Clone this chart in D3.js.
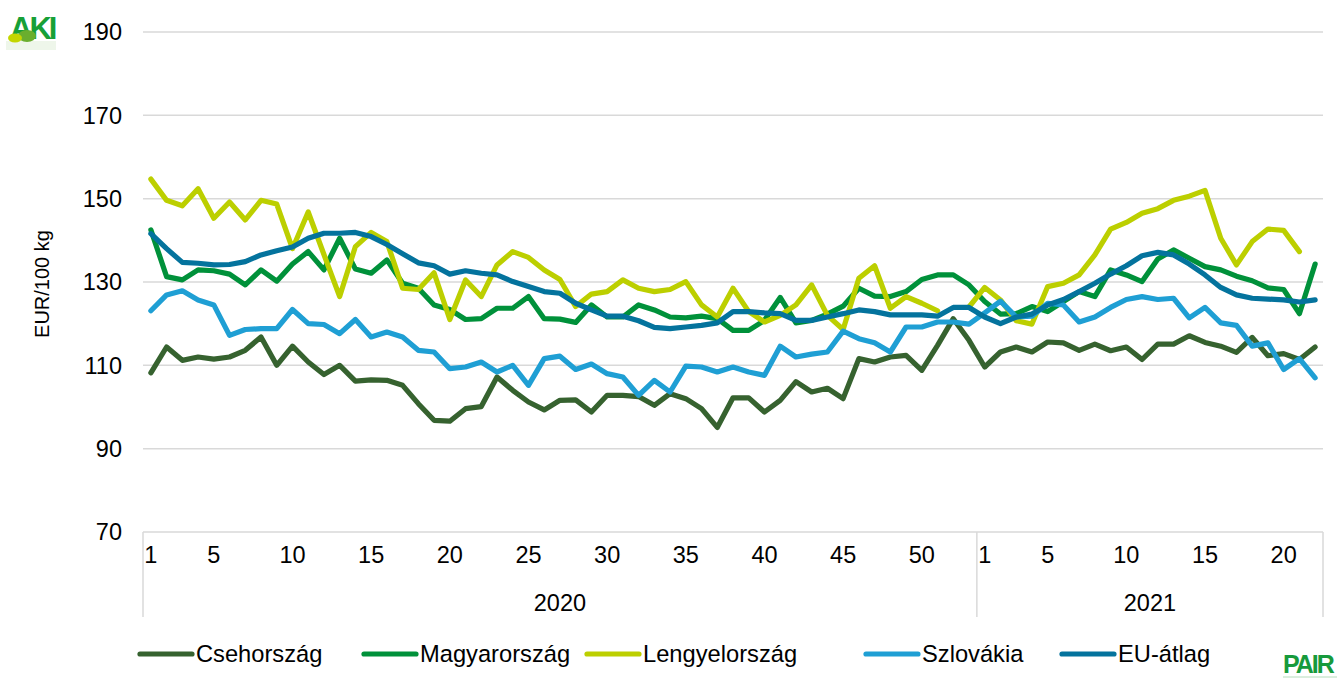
<!DOCTYPE html>
<html>
<head>
<meta charset="utf-8">
<script src="https://cdn.jsdelivr.net/npm/d3@7"></script>
<style>
    body { margin: 0; background: #fff; }
    #chart { width: 1337px; height: 681px; }
    text { font-family: "Liberation Sans", Arial, sans-serif; fill: #000; }
</style>
</head>
<body>
<div id="chart"></div>
<script>
// years and how many weeks each has on the axis
const years = ['2020', '2021'];
const weekCounts = [53, 22];
const shownWeeks = [1, 5, 10, 15, 20, 25, 30, 35, 40, 45, 50];
const yTicks = [70, 90, 110, 130, 150, 170, 190];

const seriesNames = ['Csehország', 'Magyarország', 'Lengyelország', 'Szlovákia', 'EU-átlag'];
const seriesColors = ['#36622f', '#00913a', '#bccf00', '#1f9fd4', '#04739d'];

const cseh = [
    108.2, 114.4, 111.2, 112.0, 111.5, 112.0, 113.6, 116.8, 110.0, 114.6,
    110.8, 107.8, 110.0, 106.2, 106.5, 106.4, 105.2, 100.8, 96.8, 96.6,
    99.6, 100.1, 107.2, 104.0, 101.2, 99.3, 101.6, 101.7, 98.8, 102.8,
    102.8, 102.5, 100.4, 103.2, 102.0, 99.6, 95.1, 102.2, 102.2, 98.8,
    101.6, 106.1, 103.6, 104.5, 102.0, 111.6, 110.8, 112.0, 112.4, 108.8,
    114.8, 121.2, 116.0, 109.6, 113.2, 114.4, 113.2, 115.6, 115.4, 113.6,
    115.1, 113.5, 114.4, 111.4, 115.1, 115.1, 117.1, 115.5, 114.6, 113.1,
    116.7, 112.3, 112.8, 111.4, 114.4
];
const magyar = [
    142.5, 131.3, 130.5, 132.9, 132.7, 131.9, 129.3, 132.9, 130.2, 134.3,
    137.3, 132.9, 140.5, 133.1, 132.1, 135.3, 129.7, 128.5, 124.5, 123.4,
    121.0, 121.2, 123.7, 123.7, 126.5, 121.2, 121.1, 120.3, 124.5, 121.6,
    121.6, 124.5, 123.3, 121.6, 121.4, 121.8, 121.2, 118.4, 118.4, 120.8,
    126.3, 120.2, 120.8, 122.3, 124.2, 128.5, 126.6, 126.5, 127.7, 130.6,
    131.7, 131.7, 129.3, 125.3, 122.3, 122.4, 124.1, 122.9, 125.3, 127.7,
    126.5, 132.9, 131.7, 130.1, 135.5, 137.7, 135.7, 133.7, 132.9, 131.4,
    130.3, 128.6, 128.2, 122.4, 134.3
];
const lengyel = [
    154.7, 149.6, 148.3, 152.4, 145.3, 149.2, 144.9, 149.6, 148.7, 138.0,
    146.8, 136.6, 126.5, 138.5, 141.9, 139.7, 128.5, 128.2, 132.2, 121.0,
    130.5, 126.5, 134.1, 137.3, 135.9, 132.9, 130.6, 124.1, 127.1, 127.7,
    130.5, 128.5, 127.7, 128.2, 130.1, 124.5, 121.6, 128.5, 122.9, 120.4,
    122.0, 124.5, 129.3, 122.0, 118.6, 130.9, 133.9, 123.7, 126.5, 124.9,
    123.1, null, 124.0, 128.7, 125.7, 120.7, 119.9, 128.9, 129.7, 131.7,
    136.5, 142.7, 144.3, 146.5, 147.6, 149.6, 150.6, 152.0, 140.5, 134.1,
    139.7, 142.7, 142.4, 137.3, null
];
const szlovak = [
    123.1, 126.9, 127.9, 125.7, 124.5, 117.2, 118.6, 118.8, 118.8, 123.4,
    120.0, 119.8, 117.6, 121.0, 116.8, 118.0, 116.8, 113.6, 113.2, 109.2,
    109.6, 110.8, 108.4, 110.0, 105.2, 111.6, 112.2, 109.0, 110.3, 108.0,
    107.2, 102.8, 106.4, 103.6, 109.8, 109.6, 108.4, 109.6, 108.4, 107.6,
    114.6, 112.0, 112.7, 113.2, 118.2, 116.4, 115.4, 113.2, 119.2, 119.2,
    120.4, 120.4, 119.9, 122.6, 125.4, 121.6, 121.8, 124.9, 124.5, 120.4,
    121.6, 123.9, 125.8, 126.5, 125.8, 126.1, 121.4, 123.9, 120.2, 119.6,
    114.6, 115.4, 109.0, 111.6, 107.0
];
const euAtlag = [
    141.6, 138.0, 134.7, 134.5, 134.1, 134.2, 134.9, 136.5, 137.5, 138.4,
    140.5, 141.7, 141.7, 141.9, 140.9, 139.0, 136.8, 134.6, 133.9, 131.9,
    132.7, 132.1, 131.7, 130.1, 128.9, 127.7, 127.3, 124.9, 123.3, 121.8,
    121.8, 120.7, 119.1, 118.8, 119.2, 119.6, 120.2, 122.9, 122.9, 122.6,
    122.4, 120.8, 120.8, 121.6, 122.4, 123.3, 122.9, 122.1, 122.1, 122.1,
    121.8, 123.9, 123.9, 121.6, 120.0, 121.6, 122.3, 124.5, 125.8, 127.7,
    129.7, 131.9, 133.9, 136.3, 137.1, 136.5, 134.3, 131.7, 128.7, 126.9,
    126.1, 125.9, 125.7, 125.2, 125.7
];
const seriesValues = [cseh, magyar, lengyel, szlovak, euAtlag];

class PriceChart {
    constructor(container) {
        this.container = container;
        this.width = 1337;
        this.height = 681;
        this.margin = { left: 143, right: 14, top: 32, bottom: 149 };
        this.init();
    }

    init() {
        this.svg = d3.select(this.container)
            .append('svg')
            .attr('width', this.width)
            .attr('height', this.height);
    }

    draw() {
        const m = this.margin;
        const innerW = this.width - m.left - m.right;
        const innerH = this.height - m.top - m.bottom;

        // categories: one per week, keyed by year and week
        const cats = [];
        years.forEach((yr, yi) => {
            for (let w = 1; w <= weekCounts[yi]; w++) cats.push({ key: yr + '-' + w, year: yr, week: w });
        });

        const x = d3.scaleBand().domain(cats.map(c => c.key)).range([0, innerW]).padding(0);
        const y = d3.scaleLinear().domain([70, 190]).range([innerH, 0]);

        const g = this.svg.append('g').attr('transform', `translate(${m.left},${m.top})`);

        // horizontal gridlines
        g.selectAll('line.grid')
            .data(yTicks)
            .enter().append('line')
            .attr('class', 'grid')
            .attr('x1', 0).attr('x2', innerW)
            .attr('y1', d => y(d)).attr('y2', d => y(d))
            .attr('stroke', '#d9d9d9')
            .attr('stroke-width', 1.5);

        // y axis labels
        g.selectAll('text.ylab')
            .data(yTicks)
            .enter().append('text')
            .attr('class', 'ylab')
            .attr('x', -21)
            .attr('y', d => y(d))
            .attr('dy', '0.35em')
            .attr('text-anchor', 'end')
            .style('font-size', '23.5px')
            .text(d => d);

        g.append('text')
            .attr('transform', `translate(${42 - m.left},${284 - m.top}) rotate(-90)`)
            .attr('text-anchor', 'middle')
            .attr('dy', '0.35em')
            .style('font-size', '20px')
            .text('EUR/100 kg');

        // year group separators below the axis
        const yearStart = [];
        let acc = 0;
        weekCounts.forEach(n => { yearStart.push(acc); acc += n; });
        const sepX = yearStart.map(i => x(cats[i].key)).concat([innerW]);
        g.selectAll('line.sep')
            .data(sepX)
            .enter().append('line')
            .attr('class', 'sep')
            .attr('x1', d => d).attr('x2', d => d)
            .attr('y1', innerH).attr('y2', innerH + 85)
            .attr('stroke', '#d9d9d9')
            .attr('stroke-width', 1.5);

        // week tick labels
        g.selectAll('text.wk')
            .data(cats.filter(c => shownWeeks.includes(c.week)))
            .enter().append('text')
            .attr('class', 'wk')
            .attr('x', d => x(d.key) + x.bandwidth() / 2)
            .attr('y', innerH + 23)
            .attr('dy', '0.35em')
            .attr('text-anchor', 'middle')
            .style('font-size', '23.5px')
            .text(d => d.week);

        // year labels
        g.selectAll('text.yr')
            .data(years)
            .enter().append('text')
            .attr('class', 'yr')
            .attr('x', (d, i) => (sepX[i] + sepX[i + 1]) / 2)
            .attr('y', innerH + 71)
            .attr('dy', '0.35em')
            .attr('text-anchor', 'middle')
            .style('font-size', '23.5px')
            .text(d => d);

        // series lines
        const line = d3.line()
            .defined(d => d.v !== null)
            .x(d => x(d.key) + x.bandwidth() / 2)
            .y(d => y(d.v));

        seriesNames.forEach((name, si) => {
            const pts = cats.map((c, i) => ({ key: c.key, v: seriesValues[si][i] }));
            g.append('path')
                .datum(pts)
                .attr('d', line)
                .attr('fill', 'none')
                .attr('stroke', seriesColors[si])
                .attr('stroke-width', 5.2)
                .attr('stroke-linejoin', 'round')
                .attr('stroke-linecap', 'round');
        });

        this.drawLegend();
        this.drawLogos();
    }

    drawLegend() {
        const legendX = [140, 364, 587, 866, 1062];
        const ly = 654;
        const items = this.svg.selectAll('g.legend')
            .data(seriesNames)
            .enter().append('g')
            .attr('class', 'legend')
            .attr('transform', (d, i) => `translate(${legendX[i]},${ly})`);
        items.append('line')
            .attr('x1', 0).attr('x2', 52)
            .attr('stroke', (d, i) => seriesColors[i])
            .attr('stroke-width', 5.2)
            .attr('stroke-linecap', 'round');
        items.append('text')
            .attr('x', 56)
            .attr('dy', '0.35em')
            .style('font-size', '23.7px')
            .text(d => d);
    }

    drawLogos() {
        // AKI logo, top left
        const aki = this.svg.append('g');
        aki.append('rect').attr('x', 6).attr('y', 41).attr('width', 50).attr('height', 9)
            .attr('fill', '#eef6ea');
        aki.append('text')
            .attr('x', 10).attr('y', 39)
            .style('font-size', '31px')
            .style('font-weight', 'bold')
            .style('fill', '#17a037')
            .style('letter-spacing', '-3px')
            .text('AKI');
        aki.append('ellipse').attr('cx', 27).attr('cy', 36).attr('rx', 9).attr('ry', 6).attr('fill', '#6aae2e');
        aki.append('ellipse').attr('cx', 15).attr('cy', 38).attr('rx', 7).attr('ry', 4.5).attr('fill', '#c3d600');

        // PAIR logo, bottom right
        const pair = this.svg.append('g').attr('transform', 'translate(1283,673)');
        pair.append('text')
            .style('font-size', '25px')
            .style('font-weight', 'bold')
            .style('fill', '#179a3c')
            .style('letter-spacing', '-2px')
            .text('PAIR');
        pair.append('line')
            .attr('x1', 0).attr('x2', 54).attr('y1', 4).attr('y2', 4)
            .attr('stroke', '#b5dcbc').attr('stroke-width', 1);
    }
}

const chart = new PriceChart(document.getElementById('chart'));
chart.draw();
</script>
</body>
</html>
